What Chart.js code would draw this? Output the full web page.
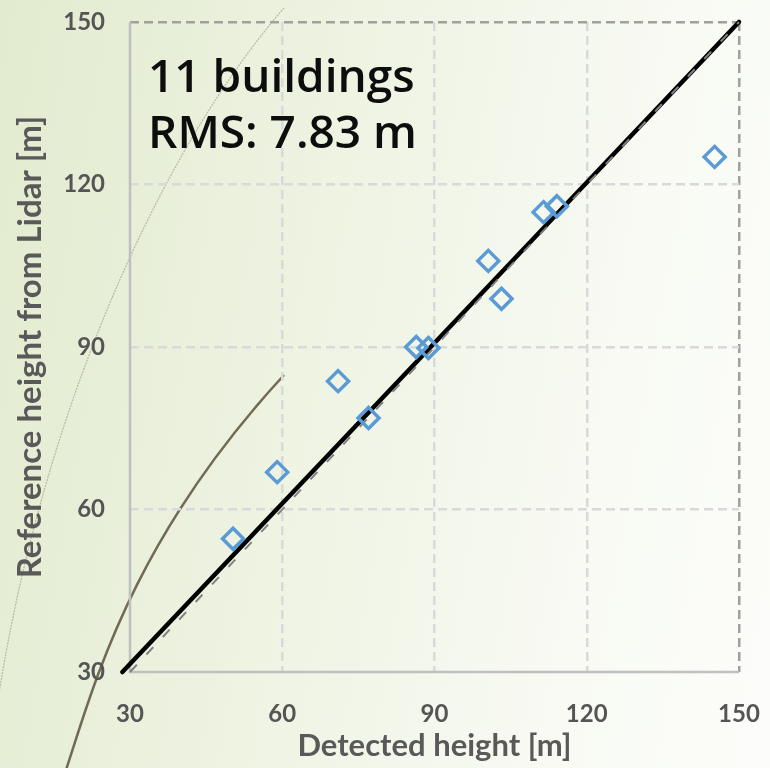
<!DOCTYPE html>
<html>
<head>
<meta charset="utf-8">
<script src="https://cdn.jsdelivr.net/npm/chart.js@4/dist/chart.umd.min.js"></script>
<style>
  html, body { margin: 0; padding: 0; }
  body {
    width: 770px; height: 768px; overflow: hidden; position: relative;
    background: linear-gradient(100deg, #e2ebcf 0%, #eef3e2 40%, #f8faf3 75%, #fcfdfa 100%);
  }
  #deco { position: absolute; left: 0; top: 0; width: 770px; height: 768px; }
  #wrap { position: absolute; left: 0; top: 0; width: 770px; height: 768px; }
</style>
</head>
<body>
<svg id="deco" width="770" height="768" xmlns="http://www.w3.org/2000/svg">
  <path d="M 284 8 C 160 150, 38 420, -5 720" fill="none" stroke="#b9b7a4" stroke-width="1.2" stroke-dasharray="2 1"/>
  <path d="M 66 770 C 95 682, 132 540, 284 375" fill="none" stroke="#716a54" stroke-width="2.5"/>
</svg>
<div id="wrap"><canvas id="c" width="770" height="768"></canvas></div>
<script>
// ---- data ----
const detectedHeight  = [50.3, 59.0, 71.0, 77.0, 86.4, 88.8, 100.6, 103.2, 111.5, 114.1, 145.2];
const referenceHeight = [54.6, 66.9, 83.7, 76.9, 90.0, 89.8, 105.9, 98.9, 114.9, 116.0, 125.1];
const identityX = [28.5, 150];
const identityY = [30, 150];
const trendX = [30, 150];
const trendY = [30, 150];
const tickValues = [30, 60, 90, 120, 150];
const annotationLines = ['11 buildings', 'RMS: 7.83 m'];
const xTitle = 'Detected height [m]';
const yTitle = 'Reference height from Lidar [m]';

const points = detectedHeight.map((x, i) => ({ x, y: referenceHeight[i] }));
const identity = identityX.map((x, i) => ({ x, y: identityY[i] }));
const trend = trendX.map((x, i) => ({ x, y: trendY[i] }));

const annotationPlugin = {
  id: 'annot',
  beforeDatasetsDraw(chart) {
    // solid axis lines (left and bottom)
    const { ctx, chartArea } = chart;
    ctx.save();
    ctx.strokeStyle = '#bfbfbf';
    ctx.lineWidth = 2.5;
    ctx.setLineDash([]);
    ctx.beginPath();
    ctx.moveTo(chartArea.left, chartArea.top);
    ctx.lineTo(chartArea.left, chartArea.bottom);
    ctx.lineTo(chartArea.right, chartArea.bottom);
    ctx.stroke();
    ctx.restore();
  },
  afterDatasetsDraw(chart) {
    const { ctx, chartArea } = chart;
    ctx.save();
    ctx.fillStyle = '#0d0d0d';
    ctx.font = '600 46px "Open Sans", "Noto Sans", sans-serif';
    ctx.textAlign = 'left';
    ctx.textBaseline = 'alphabetic';
    ctx.fillText(annotationLines[0], chartArea.left + 18, chartArea.top + 70);
    ctx.fillText(annotationLines[1], chartArea.left + 18, chartArea.top + 126);
    ctx.restore();
  }
};

const gridColor = (ctx) => {
  if (!ctx.tick) return '#d9d9d9';
  if (ctx.tick.value === 30) return 'rgba(0,0,0,0)';
  if (ctx.tick.value === 150) return '#a0a0a0';
  return '#d9d9d9';
};

new Chart(document.getElementById('c'), {
  type: 'scatter',
  data: {
    datasets: [
      {
        label: 'identity',
        type: 'line',
        data: identity,
        borderColor: '#000000',
        borderWidth: 4.5,
        pointRadius: 0,
        borderCapStyle: 'round',
        clip: false,
        order: 2
      },
      {
        label: 'trend',
        type: 'line',
        data: trend,
        borderColor: '#808080',
        borderWidth: 2,
        borderDash: [10, 14],
        pointRadius: 0,
        clip: false,
        order: 1
      },
      {
        label: 'buildings',
        data: points,
        pointStyle: 'rectRot',
        pointRadius: 10.5,
        pointBorderWidth: 3.5,
        borderColor: '#5b9bd5',
        backgroundColor: 'rgba(0,0,0,0)',
        pointBackgroundColor: 'rgba(0,0,0,0)',
        order: 0
      }
    ]
  },
  options: {
    responsive: false,
    animation: false,
    devicePixelRatio: 1,
    layout: { autoPadding: false, padding: { top: 22, right: 31, left: 0, bottom: 0 } },
    plugins: { legend: { display: false }, tooltip: { enabled: false } },
    scales: {
      x: {
        type: 'linear',
        min: 30, max: 150,
        afterBuildTicks: (s) => { s.ticks = tickValues.map(v => ({ value: v })); },
        afterFit: (s) => { s.height = 96; s.paddingLeft = 0; s.paddingRight = 0; },
        grid: { color: gridColor, lineWidth: 2.5, drawTicks: false },
        border: { display: false, dash: [9, 5] },
        ticks: { color: '#555555', padding: 28, maxRotation: 0, font: { family: 'Lato, "Open Sans", sans-serif', size: 24, weight: 'bold' } },
        title: { display: true, text: xTitle, color: '#595959', padding: { top: 0, bottom: 3 },
                 font: { family: 'Lato, "Open Sans", sans-serif', size: 31, weight: 'bold' } }
      },
      y: {
        type: 'linear',
        min: 30, max: 150,
        afterBuildTicks: (s) => { s.ticks = tickValues.map(v => ({ value: v })); },
        afterFit: (s) => { s.width = 130; s.paddingTop = 0; s.paddingBottom = 0; },
        grid: { color: gridColor, lineWidth: 2.5, drawTicks: false },
        border: { display: false, dash: [9, 5] },
        ticks: { color: '#555555', padding: 25, font: { family: 'Lato, "Open Sans", sans-serif', size: 24, weight: 'bold' } },
        title: { display: true, text: yTitle, color: '#595959', padding: { top: 11, bottom: 0 },
                 font: { family: 'Lato, "Open Sans", sans-serif', size: 33, weight: 'bold' } }
      }
    }
  },
  plugins: [annotationPlugin]
});
</script>
</body>
</html>
